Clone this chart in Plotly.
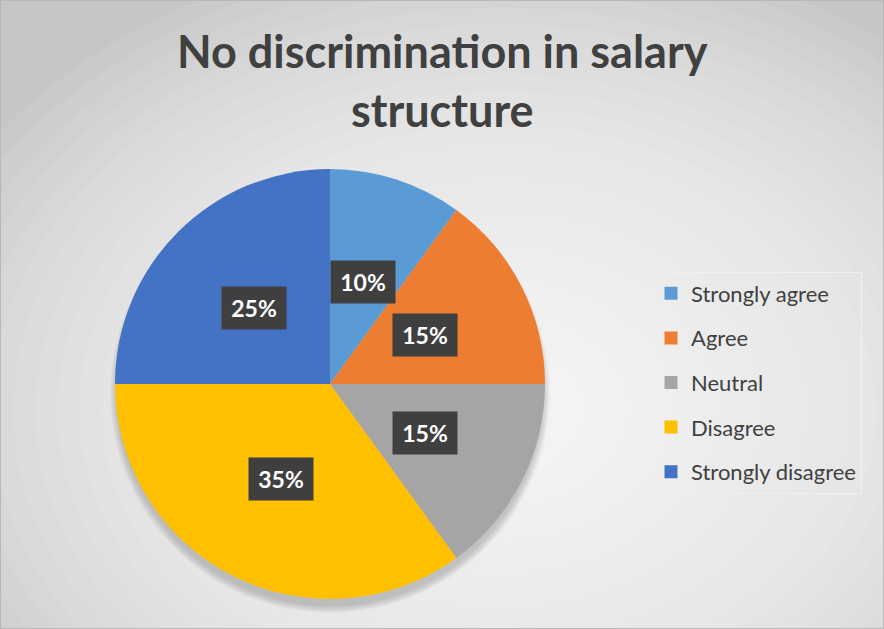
import math
import plotly.graph_objects as go

categories = ["Strongly agree", "Agree", "Neutral", "Disagree", "Strongly disagree"]
values = [10, 15, 15, 35, 25]
colors = ["#5B9BD5", "#ED7D31", "#A5A5A5", "#FFC000", "#4472C4"]
title_lines = ["No discrimination in salary", "structure"]

W, H = 884, 629
# pie geometry (pixels)
CX, CY, R = 330, 384, 215
LABEL_R = 107

fig = go.Figure()

fig.add_trace(go.Pie(
    labels=categories,
    values=values,
    marker=dict(colors=colors, line=dict(width=0)),
    sort=False,
    direction="clockwise",
    rotation=0,
    textinfo="none",
    hoverinfo="label+percent",
    showlegend=False,
    domain=dict(x=[(CX - R) / W, (CX + R) / W],
                y=[(H - CY - R) / H, (H - CY + R) / H]),
))

# legend entries
for cat, col in zip(categories, colors):
    fig.add_trace(go.Scatter(
        x=[None], y=[None], mode="markers", name=cat, legendgroup=cat,
        marker=dict(symbol="square", size=13, color=col),
    ))

# percentage labels
total = sum(values)
annotations = []
cum = 0
for v in values:
    mid = (cum + v / 2) / total * 2 * math.pi
    cum += v
    px = CX + LABEL_R * math.sin(mid)
    py = CY - LABEL_R * math.cos(mid)
    annotations.append(dict(
        x=px / W, y=1 - py / H, xref="paper", yref="paper",
        text="<b>%d%%</b>" % round(v / total * 100),
        showarrow=False,
        font=dict(family="Lato", size=23, color="white"),
        bgcolor="#3f3f3f", borderpad=6, width=52, height=30,
        xanchor="center", yanchor="middle",
    ))

# title
annotations.append(dict(
    x=0.5, y=1 - 81 / H, xref="paper", yref="paper",
    text="<b>" + "<br>".join(title_lines) + "</b>",
    showarrow=False, xanchor="center", yanchor="middle",
    font=dict(family="Lato", size=45, color="#404040"),
))

shapes = []
# radial gradient background approximation
GX, GY = 500, 410
N = 28
for i in range(N):
    f = 1 - i / N
    rx = 620 * f
    ry = 470 * f
    shapes.append(dict(
        type="circle", xref="paper", yref="paper", layer="below",
        x0=(GX - rx) / W, x1=(GX + rx) / W,
        y0=1 - (GY + ry) / H, y1=1 - (GY - ry) / H,
        fillcolor="rgba(255,255,255,0.075)", line=dict(width=0),
    ))
# soft shadow under pie
for i in range(8):
    rr = R + 5 - i * 1.0
    sy = CY + 9
    shapes.append(dict(
        type="circle", xref="paper", yref="paper", layer="below",
        x0=(CX - rr) / W, x1=(CX + rr) / W,
        y0=1 - (sy + rr) / H, y1=1 - (sy - rr) / H,
        fillcolor="rgba(0,0,0,0.022)", line=dict(width=0),
    ))
# chart border
shapes.append(dict(
    type="rect", xref="paper", yref="paper", layer="above",
    x0=0, x1=1, y0=0, y1=1, line=dict(color="#b8b8b8", width=2),
))

fig.update_layout(
    width=W, height=H,
    margin=dict(l=0, r=0, t=0, b=0),
    paper_bgcolor="#c6c6c6",
    plot_bgcolor="rgba(0,0,0,0)",
    xaxis=dict(visible=False),
    yaxis=dict(visible=False),
    legend=dict(
        x=650 / W, y=1 - 271.5 / H, xanchor="left", yanchor="top",
        font=dict(family="Lato", size=22, color="#404040"),
        bgcolor="rgba(0,0,0,0)", bordercolor="#f0f0f0", borderwidth=1,
        tracegroupgap=13, itemclick=False,
    ),
    shapes=shapes,
    annotations=annotations,
)

fig.write_html(
    "out.html",
    config={"displayModeBar": False},
    post_script="document.body.style.margin='0';document.body.style.overflow='hidden';",
)
